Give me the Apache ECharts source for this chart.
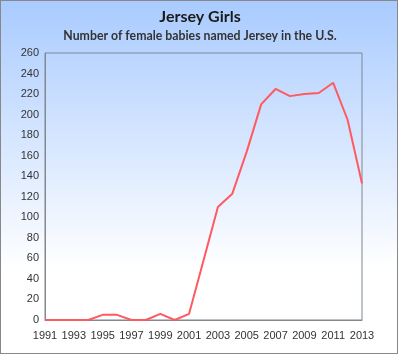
<!DOCTYPE html>
<html><head><meta charset="utf-8">
<script src="https://cdn.jsdelivr.net/npm/echarts@6/dist/echarts.min.js"></script>
<style>
html,body{margin:0;padding:0;background:#fff;}
#frame{position:absolute;left:0;top:0;width:398px;height:354px;box-sizing:border-box;border:1px solid #888;
background:linear-gradient(to bottom,#a9cbff 0%,#ffffff 76%,#ffffff 100%);}
#chart{position:absolute;left:0;top:0;width:400px;height:356px;}
</style></head>
<body><div id="frame"></div><div id="chart"></div>
<script>
var years = ['1991','1992','1993','1994','1995','1996','1997','1998','1999','2000','2001','2002','2003','2004','2005','2006','2007','2008','2009','2010','2011','2012','2013'];
var counts = [0,0,0,0,5,5,0,0,6,0,6,58,110,123,164,210,225,218,220,221,231,195,133];
var titleText = 'Jersey Girls';
var subtitleText = 'Number of female babies named Jersey in the U.S.';

var chart = echarts.init(document.getElementById('chart'), null, {renderer:'canvas'});
chart.setOption({
  backgroundColor: 'transparent',
  animation: false,
  title: {
    text: titleText, subtext: subtitleText, left: 'center', top: 4, itemGap: 5,
    textStyle: {fontFamily: 'Lato', fontWeight: 'bold', fontSize: 16, color: '#1a1a1a'},
    subtextStyle: {fontFamily: 'Lato', fontWeight: 'bold', fontSize: 12.3, color: '#333'}
  },
  grid: {left: 45, top: 53, right: 38, bottom: 36, show: true, borderColor: '#7d8796', borderWidth: 1, backgroundColor: 'transparent'},
  xAxis: {
    type: 'category', data: years, boundaryGap: false,
    axisLine: {show: true, lineStyle: {color: '#888', width: 1}},
    axisTick: {show: false},
    axisLabel: {interval: 1, color: '#333', fontFamily: 'Liberation Sans', fontSize: 11, margin: 10},
    splitLine: {show: false}
  },
  yAxis: {
    type: 'value', min: 0, max: 260, interval: 20,
    axisLine: {show: true, lineStyle: {color: '#888'}},
    axisTick: {show: false},
    axisLabel: {color: '#333', fontFamily: 'Liberation Sans', fontSize: 11, margin: 6},
    splitLine: {show: false}
  },
  series: [{
    type: 'line', data: counts, showSymbol: false, symbol: 'none',
    lineStyle: {color: '#ff5a5f', width: 2}
  }]
});
</script></body></html>
